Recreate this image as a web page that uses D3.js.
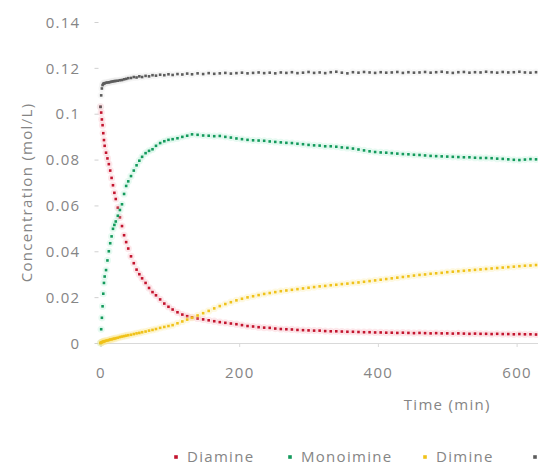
<!DOCTYPE html>
<html>
<head>
<meta charset="utf-8">
<script src="https://cdn.jsdelivr.net/npm/d3@7"></script>
<style>
  html, body { margin: 0; padding: 0; background: #fff; overflow: hidden; }
  svg text { font-family: "Open Sans", "DejaVu Sans", sans-serif; fill: #858585; letter-spacing: 1.3px; }
</style>
</head>
<body>
<svg id="chart" width="538" height="469"></svg>
<script>
// Sampling times (min)
const times = [0,1,2,3,4,5,6,8,10,12,14,16,18,20,22,25,28,31,34,37,40,44,48,52,56,60,65,70,75,80,86,92,98,104,111,118,125,132,
  140,148,156,164,172,180,188,196,204,212,220,228,236,244,252,260,268,276,284,292,300,308,316,324,332,340,348,356,364,372,380,388,
  396,404,412,420,428,436,444,452,460,468,476,484,492,500,508,516,524,532,540,548,556,564,572,580,588,596,604,612,620,628,636,644];

// Concentrations (mol/L)
const diamine = [0.1030,0.1005,0.0975,0.0950,0.0915,0.0885,0.0860,0.0830,0.0805,0.0780,0.0752,0.0720,0.0688,0.0655,0.0628,0.0590,0.0548,0.0510,0.0470,0.0440,0.0412,0.0378,0.0348,0.0320,0.0300,0.0282,0.0262,0.0240,0.0222,0.0208,0.0190,0.0172,0.0158,0.0146,0.0134,0.0124,0.0117,0.0112,
  0.0107,0.0103,0.0099,0.0095,0.0091,0.0088,0.0085,0.0082,0.0078,0.0074,0.0072,0.0069,0.0067,0.0066,0.0063,0.0061,0.0060,0.0059,0.0057,0.0056,0.0055,0.0054,0.0054,0.0052,0.0051,0.0051,0.0050,0.0049,0.0049,0.0048,0.0047,0.0047,
  0.0046,0.0046,0.0045,0.0045,0.0044,0.0045,0.0044,0.0043,0.0044,0.0043,0.0042,0.0043,0.0042,0.0042,0.0041,0.0042,0.0041,0.0040,0.0041,0.0040,0.0040,0.0039,0.0040,0.0039,0.0039,0.0038,0.0039,0.0038,0.0038,0.0037,0.0038,0.0037];

const monoimine = [0.0000,0.0060,0.0110,0.0160,0.0215,0.0262,0.0290,0.0318,0.0360,0.0400,0.0435,0.0465,0.0498,0.0515,0.0530,0.0555,0.0580,0.0605,0.0650,0.0685,0.0705,0.0728,0.0752,0.0775,0.0795,0.0812,0.0828,0.0838,0.0845,0.0860,0.0872,0.0880,0.0886,0.0889,0.0893,0.0899,0.0904,0.0910,
  0.0908,0.0905,0.0904,0.0902,0.0903,0.0899,0.0896,0.0892,0.0889,0.0886,0.0884,0.0883,0.0882,0.0879,0.0877,0.0875,0.0873,0.0872,0.0869,0.0867,0.0864,0.0862,0.0861,0.0858,0.0858,0.0856,0.0853,0.0851,0.0848,0.0844,0.0840,0.0836,
  0.0833,0.0831,0.0830,0.0828,0.0826,0.0824,0.0823,0.0821,0.0820,0.0818,0.0816,0.0815,0.0814,0.0813,0.0812,0.0811,0.0810,0.0810,0.0808,0.0807,0.0807,0.0806,0.0804,0.0803,0.0801,0.0799,0.0798,0.0800,0.0802,0.0801,0.0800,0.0799];

const dimine = [0.0000,0.0002,0.0003,0.0005,0.0006,0.0007,0.0008,0.0010,0.0011,0.0013,0.0015,0.0016,0.0018,0.0019,0.0021,0.0023,0.0026,0.0028,0.0030,0.0032,0.0034,0.0036,0.0039,0.0042,0.0044,0.0047,0.0050,0.0054,0.0057,0.0061,0.0066,0.0070,0.0074,0.0078,0.0086,0.0094,0.0102,0.0110,
  0.0120,0.0130,0.0140,0.0151,0.0161,0.0170,0.0178,0.0186,0.0193,0.0199,0.0204,0.0209,0.0214,0.0218,0.0222,0.0226,0.0229,0.0232,0.0235,0.0238,0.0241,0.0244,0.0247,0.0249,0.0252,0.0254,0.0257,0.0259,0.0262,0.0264,0.0267,0.0270,
  0.0273,0.0276,0.0279,0.0282,0.0285,0.0288,0.0291,0.0294,0.0297,0.0299,0.0302,0.0304,0.0306,0.0309,0.0311,0.0313,0.0315,0.0317,0.0319,0.0321,0.0323,0.0325,0.0327,0.0329,0.0331,0.0333,0.0335,0.0337,0.0338,0.0340,0.0341,0.0342];

const total = [0.1030,0.1080,0.1110,0.1125,0.1130,0.1132,0.1133,0.1135,0.1136,0.1137,0.1138,0.1140,0.1141,0.1142,0.1143,0.1144,0.1146,0.1147,0.1150,0.1152,0.1155,0.1156,0.1160,0.1158,0.1163,0.1160,0.1165,0.1163,0.1168,0.1166,0.1170,0.1168,0.1172,0.1169,0.1173,0.1171,0.1175,0.1172,
  0.1176,0.1173,0.1177,0.1174,0.1176,0.1178,0.1175,0.1177,0.1179,0.1176,0.1178,0.1180,0.1177,0.1179,0.1176,0.1180,0.1178,0.1181,0.1177,0.1179,0.1182,0.1178,0.1180,0.1177,0.1181,0.1183,0.1179,0.1176,0.1181,0.1179,0.1182,0.1180,
  0.1178,0.1181,0.1179,0.1180,0.1182,0.1178,0.1181,0.1179,0.1180,0.1182,0.1179,0.1181,0.1183,0.1180,0.1178,0.1181,0.1182,0.1179,0.1181,0.1180,0.1183,0.1181,0.1179,0.1182,0.1180,0.1181,0.1183,0.1180,0.1179,0.1181,0.1180,0.1182];

const seriesNames = ["Diamine", "Monoimine", "Dimine", "Total"];
const seriesValues = [diamine, monoimine, dimine, total];
const markerColors = ["#c3142e", "#139a5c", "#f0c21a", "#5c5c5c"];
const haloColors = ["#f6a5b0", "#a4ecca", "#fbe68c", "#e2e2e2"];

const xTicks = [0, 200, 400, 600];
const yTicks = [0, 0.02, 0.04, 0.06, 0.08, 0.1, 0.12, 0.14];

const svg = d3.select("#chart");
const plot = { left: 100.5, right: 794, top: 22, bottom: 343 };

const x = d3.scaleLinear().domain([0, 1000]).range([plot.left, plot.right]);
const y = d3.scaleLinear().domain([0, 0.14]).range([plot.bottom, plot.top]);

// y axis: tick stubs and labels only
const yAxis = svg.append("g")
  .attr("transform", `translate(${plot.left - 2},0)`)
  .call(d3.axisLeft(y).tickValues(yTicks).tickSize(4).tickPadding(14)
    .tickFormat(d => String(+d.toFixed(2))));
yAxis.select(".domain").remove();
yAxis.selectAll("line").attr("stroke", "#d0d0d0");
yAxis.selectAll("text").style("font-size", "15px").attr("dy", "0.35em");

// x axis along the zero line, running past the right edge
const xAxis = svg.append("g")
  .attr("transform", `translate(0,${plot.bottom})`)
  .call(d3.axisBottom(x).tickValues(xTicks).tickSize(4).tickPadding(20));
xAxis.select(".domain").attr("stroke", "#d9d9d9");
xAxis.selectAll("line").attr("stroke", "#d9d9d9");
xAxis.selectAll("text").style("font-size", "15px");

// axis titles
svg.append("text")
  .attr("x", (plot.left + plot.right) / 2)
  .attr("y", 410)
  .attr("text-anchor", "middle")
  .style("font-size", "15px")
  .text("Time (min)");

svg.append("text")
  .attr("transform", `translate(32,${(plot.top + plot.bottom) / 2 + 10}) rotate(-90)`)
  .attr("text-anchor", "middle")
  .style("font-size", "15px")
  .text("Concentration (mol/L)");

// data markers with a soft halo
seriesValues.forEach((vals, i) => {
  const pts = times.map((t, k) => [t, vals[k]]);
  const g = svg.append("g");
  g.selectAll("circle.halo").data(pts).join("circle")
    .attr("class", "halo")
    .attr("cx", d => x(d[0])).attr("cy", d => y(d[1]))
    .attr("r", 3.6).attr("fill", haloColors[i]).attr("opacity", 0.25);
  g.selectAll("rect.mk").data(pts).join("rect")
    .attr("class", "mk")
    .attr("x", d => x(d[0]) - 1.3).attr("y", d => y(d[1]) - 1.3)
    .attr("width", 2.6).attr("height", 2.6)
    .attr("fill", markerColors[i]);
});

// legend (the last entry runs past the right edge)
const legendX = [176, 290, 425, 535];
const legend = svg.append("g");
seriesNames.forEach((name, i) => {
  legend.append("rect")
    .attr("x", legendX[i] - 1.8).attr("y", 457 - 1.8)
    .attr("width", 3.6).attr("height", 3.6)
    .attr("fill", markerColors[i]);
  legend.append("text")
    .attr("x", legendX[i] + 11).attr("y", 457)
    .attr("dy", "0.35em")
    .style("font-size", "15px")
    .text(name);
});
</script>
</body>
</html>
